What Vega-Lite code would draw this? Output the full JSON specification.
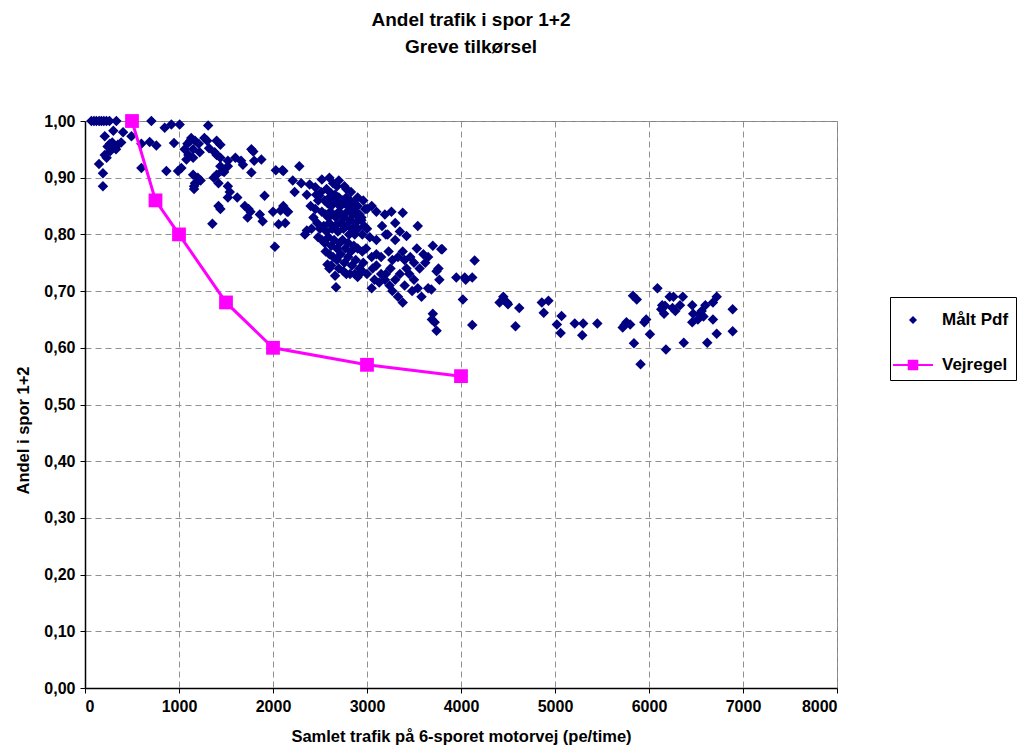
{
  "$schema": "https://vega.github.io/schema/vega-lite/v6.json",
  "width": 752,
  "height": 567,
  "autosize": "none",
  "padding": {"left": 85, "top": 121, "right": 185, "bottom": 57},
  "background": "white",
  "title": {
    "text": ["Andel trafik i spor 1+2", "Greve tilkørsel"],
    "font": "Liberation Sans",
    "fontSize": 19,
    "fontWeight": "bold",
    "lineHeight": 27,
    "anchor": "middle",
    "dx": 10,
    "offset": 56,
    "color": "black"
  },
  "datasets": {
    "pdf": [
      {"x":68,"y":1.0},{"x":95,"y":1.0},{"x":121,"y":1.0},{"x":150,"y":1.0},{"x":174,"y":1.0},{"x":200,"y":1.0},{"x":228,"y":1.0},{"x":260,"y":1.0},{"x":334,"y":1.0},{"x":706,"y":1.0},{"x":848,"y":0.988},{"x":919,"y":0.994},{"x":1007,"y":0.994},
      {"x":210,"y":0.973},{"x":301,"y":0.983},{"x":405,"y":0.98},{"x":494,"y":0.973},{"x":240,"y":0.955},{"x":265,"y":0.96},{"x":290,"y":0.962},{"x":310,"y":0.955},{"x":350,"y":0.958},{"x":385,"y":0.962},{"x":270,"y":0.947},{"x":330,"y":0.95},{"x":210,"y":0.94},{"x":230,"y":0.935},{"x":149,"y":0.924},{"x":191,"y":0.908},{"x":191,"y":0.885},{"x":600,"y":0.917},{"x":600,"y":0.96},{"x":688,"y":0.963},{"x":759,"y":0.957},{"x":947,"y":0.961},{"x":866,"y":0.912},{"x":990,"y":0.912},{"x":1025,"y":0.917},{"x":1079,"y":0.932},
      {"x":1060,"y":0.95},{"x":1090,"y":0.96},{"x":1120,"y":0.965},{"x":1100,"y":0.94},{"x":1150,"y":0.935},{"x":1150,"y":0.905},{"x":1170,"y":0.89},{"x":1160,"y":0.88},{"x":1130,"y":0.97},
      {"x":1310,"y":0.992},{"x":1170,"y":0.965},{"x":1210,"y":0.96},{"x":1270,"y":0.97},{"x":1300,"y":0.965},{"x":1400,"y":0.965},{"x":1440,"y":0.958},{"x":1150,"y":0.95},{"x":1220,"y":0.945},{"x":1320,"y":0.952},{"x":1380,"y":0.945},{"x":1440,"y":0.935},{"x":1520,"y":0.93},{"x":1440,"y":0.92},{"x":1480,"y":0.91},{"x":1400,"y":0.905},{"x":1370,"y":0.9},{"x":1420,"y":0.89},{"x":1520,"y":0.92},{"x":1460,"y":0.912},{"x":1680,"y":0.923},{"x":1770,"y":0.95},{"x":1790,"y":0.946},{"x":1800,"y":0.93},{"x":1876,"y":0.932},{"x":1770,"y":0.909},{"x":1200,"y":0.9},{"x":1180,"y":0.89},{"x":1160,"y":0.885},{"x":1230,"y":0.895},{"x":1520,"y":0.885},{"x":1540,"y":0.875},{"x":1520,"y":0.865},{"x":1620,"y":0.865},{"x":1420,"y":0.85},{"x":1440,"y":0.845},{"x":1740,"y":0.845},{"x":1760,"y":0.84},{"x":1910,"y":0.868},{"x":1860,"y":0.835},{"x":1890,"y":0.823},{"x":1355,"y":0.819},{"x":2030,"y":0.913},{"x":2100,"y":0.913},{"x":2000,"y":0.84},{"x":2080,"y":0.842},{"x":2150,"y":0.84},{"x":2060,"y":0.818},{"x":2020,"y":0.778},{"x":1700,"y":0.85},{"x":1730,"y":0.83},{"x":1660,"y":0.93},{"x":1600,"y":0.935},{"x":1400,"y":0.94},
      {"x":2280,"y":0.92},{"x":2110,"y":0.912},{"x":2210,"y":0.895},{"x":2300,"y":0.89},{"x":2390,"y":0.888},{"x":2520,"y":0.897},{"x":2450,"y":0.883},{"x":2680,"y":0.885},{"x":2600,"y":0.9},{"x":2780,"y":0.88},{"x":2230,"y":0.875},{"x":2360,"y":0.87},{"x":2490,"y":0.868},{"x":2620,"y":0.872},{"x":2110,"y":0.85},{"x":2160,"y":0.84},{"x":2130,"y":0.82},{"x":2360,"y":0.807},{"x":2410,"y":0.81},{"x":2580,"y":0.747},{"x":2660,"y":0.727},{"x":2670,"y":0.707},{"x":2780,"y":0.73},{"x":2870,"y":0.73},
      {"x":2550,"y":0.86},{"x":2580,"y":0.855},{"x":2600,"y":0.865},{"x":2620,"y":0.85},{"x":2640,"y":0.86},{"x":2660,"y":0.87},{"x":2680,"y":0.855},{"x":2700,"y":0.865},{"x":2720,"y":0.85},{"x":2740,"y":0.86},{"x":2760,"y":0.855},{"x":2780,"y":0.865},{"x":2800,"y":0.85},{"x":2820,"y":0.86},{"x":2840,"y":0.845},{"x":2860,"y":0.855},{"x":2880,"y":0.84},{"x":2900,"y":0.85},{"x":2920,"y":0.835},
      {"x":2520,"y":0.84},{"x":2560,"y":0.835},{"x":2590,"y":0.83},{"x":2610,"y":0.84},{"x":2640,"y":0.835},{"x":2670,"y":0.83},{"x":2700,"y":0.84},{"x":2730,"y":0.835},{"x":2760,"y":0.83},{"x":2790,"y":0.84},{"x":2820,"y":0.825},{"x":2850,"y":0.835},{"x":2880,"y":0.82},{"x":2910,"y":0.83},{"x":2940,"y":0.825},
      {"x":2470,"y":0.82},{"x":2500,"y":0.81},{"x":2540,"y":0.815},{"x":2570,"y":0.805},{"x":2600,"y":0.82},{"x":2630,"y":0.81},{"x":2660,"y":0.815},{"x":2690,"y":0.805},{"x":2720,"y":0.82},{"x":2750,"y":0.81},{"x":2780,"y":0.815},{"x":2810,"y":0.8},{"x":2840,"y":0.81},{"x":2870,"y":0.8},{"x":2900,"y":0.81},{"x":2950,"y":0.8},
      {"x":2480,"y":0.795},{"x":2520,"y":0.79},{"x":2550,"y":0.785},{"x":2590,"y":0.795},{"x":2620,"y":0.78},{"x":2650,"y":0.79},{"x":2680,"y":0.775},{"x":2710,"y":0.785},{"x":2740,"y":0.79},{"x":2770,"y":0.775},{"x":2800,"y":0.785},{"x":2830,"y":0.77},{"x":2860,"y":0.78},{"x":2900,"y":0.775},{"x":2950,"y":0.77},
      {"x":2560,"y":0.77},{"x":2600,"y":0.765},{"x":2640,"y":0.76},{"x":2680,"y":0.755},{"x":2720,"y":0.765},{"x":2760,"y":0.75},{"x":2800,"y":0.76},{"x":2840,"y":0.745},{"x":2880,"y":0.755},{"x":2920,"y":0.74},{"x":2960,"y":0.75},{"x":2620,"y":0.745},{"x":2700,"y":0.74},{"x":2750,"y":0.735},{"x":2820,"y":0.73},{"x":2900,"y":0.725},{"x":2950,"y":0.735},
      {"x":2400,"y":0.85},{"x":2450,"y":0.845},{"x":2480,"y":0.86},{"x":2430,"y":0.83},{"x":2460,"y":0.87},{"x":2510,"y":0.875},{"x":2570,"y":0.88},{"x":2640,"y":0.89},{"x":2700,"y":0.895},{"x":2760,"y":0.885},{"x":2830,"y":0.875},{"x":2900,"y":0.865},{"x":2960,"y":0.86},{"x":2980,"y":0.845},{"x":2340,"y":0.8},{"x":2600,"y":0.74},{"x":2900,"y":0.727},
      {"x":3190,"y":0.835},{"x":3260,"y":0.84},{"x":3380,"y":0.838},{"x":3540,"y":0.815},{"x":2940,"y":0.83},{"x":2970,"y":0.815},{"x":3000,"y":0.81},{"x":3160,"y":0.815},{"x":3220,"y":0.8},{"x":3300,"y":0.82},{"x":3350,"y":0.805},{"x":3030,"y":0.795},{"x":3100,"y":0.79},{"x":3200,"y":0.8},{"x":3300,"y":0.79},{"x":3420,"y":0.797},{"x":3530,"y":0.775},{"x":3600,"y":0.765},{"x":3650,"y":0.76},{"x":3800,"y":0.774},{"x":2990,"y":0.775},{"x":3050,"y":0.76},{"x":3100,"y":0.765},{"x":3150,"y":0.76},{"x":3100,"y":0.745},{"x":3150,"y":0.73},{"x":3060,"y":0.74},{"x":3130,"y":0.715},{"x":3080,"y":0.72},{"x":3380,"y":0.77},{"x":3400,"y":0.755},{"x":3420,"y":0.74},{"x":3450,"y":0.73},{"x":3500,"y":0.72},{"x":3540,"y":0.705},{"x":3480,"y":0.7},{"x":3740,"y":0.735},{"x":3770,"y":0.72},{"x":3760,"y":0.74},{"x":3580,"y":0.69},{"x":3650,"y":0.705},{"x":3270,"y":0.7},{"x":3380,"y":0.68},{"x":3330,"y":0.69},{"x":3950,"y":0.724},{"x":4040,"y":0.724},{"x":4020,"y":0.685},{"x":4145,"y":0.754},{"x":3790,"y":0.774},{"x":3685,"y":0.703},{"x":4120,"y":0.724},{"x":4050,"y":0.72},{"x":3700,"y":0.66},{"x":3690,"y":0.65},{"x":3740,"y":0.63},{"x":3720,"y":0.645},{"x":4120,"y":0.64},
      {"x":3230,"y":0.77},{"x":3270,"y":0.755},{"x":3330,"y":0.76},{"x":3200,"y":0.73},{"x":3250,"y":0.74},{"x":3300,"y":0.72},{"x":3350,"y":0.73},{"x":3400,"y":0.71},{"x":3000,"y":0.73},{"x":3050,"y":0.705},{"x":3190,"y":0.72},{"x":3240,"y":0.71},{"x":3560,"y":0.74},{"x":3620,"y":0.75},{"x":3700,"y":0.78},{"x":3460,"y":0.76},{"x":3500,"y":0.75},{"x":3050,"y":0.85},{"x":3100,"y":0.84},{"x":3000,"y":0.845},
      {"x":4410,"y":0.68},{"x":4450,"y":0.69},{"x":4490,"y":0.68},{"x":4500,"y":0.677},{"x":4620,"y":0.67},{"x":4580,"y":0.638},{"x":4860,"y":0.68},{"x":4930,"y":0.683},{"x":4880,"y":0.662},{"x":5070,"y":0.656},{"x":5020,"y":0.641},{"x":5060,"y":0.626},{"x":5210,"y":0.643},{"x":5290,"y":0.622},{"x":5300,"y":0.643},{"x":5450,"y":0.643},{"x":5720,"y":0.636},{"x":5800,"y":0.641},{"x":5830,"y":0.692},{"x":5870,"y":0.685},{"x":5840,"y":0.608},{"x":5910,"y":0.571},{"x":5950,"y":0.645},{"x":5970,"y":0.65},{"x":6010,"y":0.624},{"x":6090,"y":0.705},{"x":6130,"y":0.668},{"x":6170,"y":0.674},{"x":6180,"y":0.597},{"x":6220,"y":0.69},{"x":6260,"y":0.69},{"x":6360,"y":0.69},{"x":6140,"y":0.675},{"x":6160,"y":0.66},{"x":6280,"y":0.665},{"x":6250,"y":0.67},{"x":6330,"y":0.675},{"x":6460,"y":0.675},{"x":6470,"y":0.66},{"x":6560,"y":0.665},{"x":6600,"y":0.675},{"x":6720,"y":0.69},{"x":6680,"y":0.68},{"x":6540,"y":0.66},{"x":6580,"y":0.655},{"x":6890,"y":0.668},{"x":6460,"y":0.645},{"x":6520,"y":0.65},{"x":6680,"y":0.65},{"x":6720,"y":0.625},{"x":6890,"y":0.629},{"x":6370,"y":0.609},{"x":6620,"y":0.609},{"x":5740,"y":0.64},{"x":5760,"y":0.645}
    ],
    "vej": [
      {"x":500,"y":1.0},{"x":750,"y":0.86},{"x":1000,"y":0.8},{"x":1500,"y":0.68},{"x":2000,"y":0.6},{"x":3000,"y":0.57},{"x":4000,"y":0.55}
    ]
  },
  "encoding": {
    "x": {
      "field": "x", "type": "quantitative",
      "scale": {"domain": [0, 8000], "nice": false, "zero": true},
      "axis": {"values": [0,1000,2000,3000,4000,5000,6000,7000,8000], "format": "d", "title": "Samlet trafik på 6-sporet motorvej (pe/time)", "titlePadding": 14}
    },
    "y": {
      "field": "y", "type": "quantitative",
      "scale": {"domain": [0, 1], "nice": false},
      "axis": {"values": [0,0.1,0.2,0.3,0.4,0.5,0.6,0.7,0.8,0.9,1.0], "labelExpr": "replace(format(datum.value, '.2f'), '.', ',')", "title": "Andel i spor 1+2", "titlePadding": 12, "titleY": 309}
    }
  },
  "layer": [
    {
      "data": {"name": "pdf"},
      "transform": [{"calculate": "'Målt Pdf'", "as": "s"}],
      "mark": {"type": "point", "filled": true, "size": 1764, "opacity": 1, "strokeWidth": 0},
      "encoding": {
        "color": {
          "field": "s", "type": "nominal",
          "scale": {"domain": ["Målt Pdf", "Vejregel"], "range": ["#000080", "#FF00FF"]},
          "legend": {"title": null, "orient": "none", "legendX": 805, "legendY": 176}
        },
        "shape": {
          "field": "s", "type": "nominal",
          "scale": {"domain": ["Målt Pdf", "Vejregel"], "range": ["M0,-0.25L0.25,0L0,0.25L-0.25,0Z", "M-1.25,-0.07H1.25V0.07H-1.25Z M-0.33,-0.33H0.33V0.33H-0.33Z"]},
          "legend": {"title": null, "orient": "none", "legendX": 805, "legendY": 176}
        }
      }
    },
    {
      "data": {"name": "vej"},
      "transform": [{"calculate": "'Vejregel'", "as": "s"}],
      "mark": {"type": "line", "strokeWidth": 3},
      "encoding": {"color": {"field": "s", "type": "nominal"}}
    },
    {
      "data": {"name": "vej"},
      "transform": [{"calculate": "'Vejregel'", "as": "s"}],
      "mark": {"type": "point", "shape": "square", "filled": true, "size": 190, "opacity": 1, "strokeWidth": 0},
      "encoding": {"color": {"field": "s", "type": "nominal"}}
    }
  ],
  "config": {
    "font": "Liberation Sans",
    "view": {"stroke": "#808080", "strokeWidth": 1},
    "axis": {
      "labelFont": "Liberation Sans", "labelFontSize": 16, "labelFontWeight": "bold", "labelColor": "black",
      "titleFont": "Liberation Sans", "titleFontSize": 16.5, "titleFontWeight": "bold", "titleColor": "black",
      "domainColor": "black", "domainWidth": 1.5, "tickColor": "black", "tickSize": 5,
      "grid": true, "gridColor": "#909090", "gridDash": [6, 4], "gridWidth": 1, "labelPadding": 5
    },
    "legend": {
      "labelFont": "Liberation Sans", "labelFontSize": 17, "labelFontWeight": "bold", "labelColor": "black",
      "strokeColor": "black", "fillColor": "white", "padding": 7, "rowPadding": 21,
      "symbolSize": 1024, "labelOffset": 13, "symbolStrokeWidth": 0, "columnPadding": 10
    }
  }
}
